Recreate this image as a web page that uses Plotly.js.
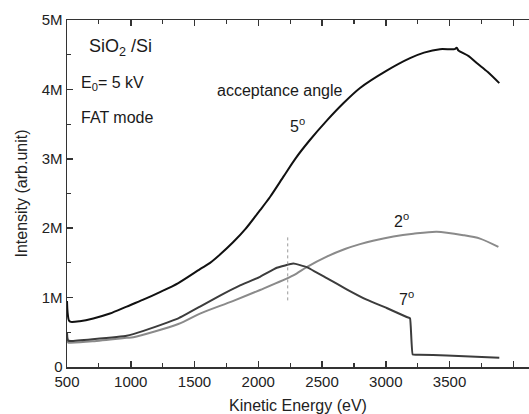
<!DOCTYPE html>
<html>
<head>
<meta charset="utf-8">
<script src="https://cdn.plot.ly/plotly-3.0.1.min.js"></script>
<style>html,body{margin:0;padding:0;background:#fff;}#chart{width:529px;height:414px;}</style>
</head>
<body>
<div id="chart"></div>
<script>
// 5 degree acceptance angle
const energy5 = [500, 505, 515, 530, 600, 706, 837, 968, 1098, 1229, 1373, 1543, 1622, 1700, 1804, 1900, 2014, 2092, 2200, 2290, 2400, 2537, 2667, 2798, 3007, 3190, 3300, 3425, 3540, 3556, 3570, 3650, 3713, 3800, 3890];
const intensity5 = [0.95e6, 0.78e6, 0.67e6, 0.65e6, 0.66e6, 0.70e6, 0.77e6, 0.87e6, 0.97e6, 1.08e6, 1.21e6, 1.41e6, 1.50e6, 1.62e6, 1.80e6, 1.99e6, 2.26e6, 2.45e6, 2.75e6, 3.00e6, 3.26e6, 3.55e6, 3.80e6, 4.02e6, 4.27e6, 4.45e6, 4.53e6, 4.58e6, 4.58e6, 4.60e6, 4.56e6, 4.48e6, 4.38e6, 4.25e6, 4.09e6];
// 7 degree
const energy7 = [500, 503, 510, 530, 700, 968, 1100, 1373, 1543, 1700, 1850, 2014, 2145, 2275, 2380, 2537, 2693, 2850, 3007, 3164, 3190, 3211, 3260, 3478, 3890];
const intensity7 = [0.50e6, 0.42e6, 0.38e6, 0.375e6, 0.40e6, 0.45e6, 0.52e6, 0.70e6, 0.87e6, 1.03e6, 1.17e6, 1.30e6, 1.43e6, 1.49e6, 1.44e6, 1.28e6, 1.12e6, 0.97e6, 0.85e6, 0.72e6, 0.70e6, 0.18e6, 0.178e6, 0.165e6, 0.135e6];
// 2 degree
const energy2 = [500, 503, 510, 530, 700, 968, 1020, 1373, 1543, 1800, 2014, 2275, 2380, 2537, 2680, 2798, 2900, 3060, 3216, 3399, 3608, 3739, 3883];
const intensity2 = [0.45e6, 0.38e6, 0.35e6, 0.35e6, 0.37e6, 0.42e6, 0.43e6, 0.62e6, 0.77e6, 0.95e6, 1.11e6, 1.32e6, 1.44e6, 1.59e6, 1.70e6, 1.77e6, 1.82e6, 1.88e6, 1.92e6, 1.95e6, 1.90e6, 1.85e6, 1.73e6];
// dotted marker line at peak of 7 degree curve
const markerX = [2231, 2231];
const markerY = [0.96e6, 1.88e6];

const yTickVals = [0, 1e6, 2e6, 3e6, 4e6, 5e6];
const yTickText = ['0', '1M', '2M', '3M', '4M', '5M'];
const xTickVals = [500, 1000, 1500, 2000, 2500, 3000, 3500, 4000];

const FONT = 'Liberation Sans, Arial, sans-serif';

const traces = [
  {x: energy2, y: intensity2, mode: 'lines', line: {color: '#8a8a8a', width: 2, shape: 'spline', smoothing: 0.8}, hoverinfo: 'none'},
  {x: energy7, y: intensity7, mode: 'lines', line: {color: '#3c3c3c', width: 2, shape: 'spline', smoothing: 0.3}, hoverinfo: 'none'},
  {x: energy5, y: intensity5, mode: 'lines', line: {color: '#111111', width: 2, shape: 'spline', smoothing: 0.8}, hoverinfo: 'none'},
  {x: markerX, y: markerY, mode: 'lines', line: {color: '#999999', width: 1, dash: 'dot'}, hoverinfo: 'none'}
];

const ann = (x, y, text, size) => ({x: x, y: y, xref: 'x', yref: 'y', text: text, showarrow: false,
  font: {family: FONT, size: size, color: '#1a1a1a'}});

const layout = {
  width: 529, height: 414,
  margin: {l: 67, r: 0, t: 20, b: 47},
  paper_bgcolor: '#ffffff', plot_bgcolor: '#ffffff',
  showlegend: false,
  font: {family: FONT, size: 15, color: '#222'},
  xaxis: {
    range: [500, 4123], showgrid: false, zeroline: false,
    showline: true, linecolor: '#333', linewidth: 1.5, mirror: 'ticks',
    ticks: 'inside', ticklen: 6, tickwidth: 1.5, tickcolor: '#333',
    tickvals: xTickVals, tickfont: {family: FONT, size: 15, color: '#222'},
    minor: {dtick: 250, tick0: 500, ticks: 'inside', ticklen: 4, tickwidth: 1.2, tickcolor: '#333'},
    title: {text: 'Kinetic Energy (eV)', font: {family: FONT, size: 16, color: '#222'}, standoff: 11}
  },
  yaxis: {
    range: [0, 5e6], showgrid: false, zeroline: false,
    showline: true, linecolor: '#333', linewidth: 1.5,
    ticks: 'inside', ticklen: 6, tickwidth: 1.5, tickcolor: '#333',
    tickvals: yTickVals, ticktext: yTickText, tickfont: {family: FONT, size: 15, color: '#222'},
    minor: {dtick: 0.5e6, tick0: 0, ticks: 'inside', ticklen: 4, tickwidth: 1.2, tickcolor: '#333'},
    title: {text: 'Intensity (arb.unit)', font: {family: FONT, size: 16, color: '#222'}, standoff: 10}
  },
  annotations: [
    ann(916, 4.61e6, 'SiO<sub>2</sub> /Si', 18),
    ann(853, 4.09e6, 'E<sub>0</sub>= 5 kV', 16),
    ann(892, 3.59e6, 'FAT mode', 16),
    ann(2171, 3.99e6, 'acceptance angle', 16),
    ann(2304, 3.49e6, '5<sup>o</sup>', 16),
    ann(3127, 2.12e6, '2<sup>o</sup>', 16),
    ann(3166, 0.99e6, '7<sup>o</sup>', 16)
  ]
};

Plotly.newPlot('chart', traces, layout, {staticPlot: true, displayModeBar: false});
</script>
</body>
</html>
